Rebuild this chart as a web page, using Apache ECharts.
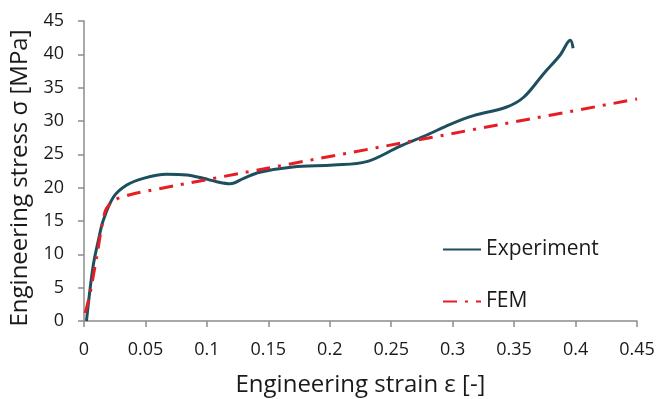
<!DOCTYPE html>
<html>
<head>
<meta charset="utf-8">
<script src="https://cdn.jsdelivr.net/npm/echarts@6/dist/echarts.min.js"></script>
<style>
  html, body { margin: 0; padding: 0; background: #fff; }
  #chart { width: 661px; height: 399px; }
</style>
</head>
<body>
<div id="chart"></div>
<script>
// values (strain, stress MPa)
const experimentStrain = [0.002, 0.0073, 0.0117, 0.0157, 0.024, 0.0348, 0.0483, 0.067, 0.0836, 0.097, 0.108, 0.119, 0.130, 0.143, 0.170, 0.203, 0.230, 0.257, 0.279, 0.298, 0.317, 0.344, 0.358, 0.374, 0.3875, 0.3957, 0.398]
const experimentStress = [0, 8.1, 12.1, 15.1, 18.6, 20.4, 21.4, 22.0, 21.9, 21.4, 20.9, 20.6, 21.4, 22.3, 23.1, 23.4, 23.9, 26.2, 27.9, 29.5, 30.8, 32.1, 33.6, 37.1, 39.9, 42.1, 40.9]

const femStrain = [0.001, 0.005, 0.0103, 0.0144, 0.0175, 0.024, 0.043, 0.45]
const femStress = [1.2, 4.2, 9.6, 14.1, 16.6, 18.1, 19.2, 33.3]

const xTicks = [0, 0.05, 0.1, 0.15, 0.2, 0.25, 0.3, 0.35, 0.4, 0.45]

const chart = echarts.init(document.getElementById('chart'))

const font = 'Open Sans'
const axisGrey = '#8c8c8c'
const textColor = '#1a1a1a'

const option = {
    animation: false,
    grid: { left: 84, right: 24, top: 21, bottom: 78, outerBoundsMode: 'none' },
    legend: {
        orient: 'vertical',
        left: 437,
        top: 234,
        itemGap: 31,
        itemWidth: 38,
        itemHeight: 21,
        itemStyle: { opacity: 0 },
        textStyle: { fontFamily: font, fontSize: 21, color: textColor },
        data: ['Experiment', 'FEM']
    },
    xAxis: {
        type: 'value',
        min: 0,
        max: 0.45,
        interval: 0.05,
        name: 'Engineering strain ε [-]',
        nameLocation: 'middle',
        nameGap: 52,
        nameTextStyle: { fontFamily: font, fontSize: 24, color: textColor },
        axisLine: { lineStyle: { color: axisGrey, width: 1.5 } },
        axisTick: { show: true, length: 6, lineStyle: { color: axisGrey, width: 1.5 } },
        splitLine: { show: false },
        axisLabel: {
            fontFamily: font, fontSize: 18, color: textColor, margin: 20,
            formatter: v => {
                const t = xTicks.find(x => Math.abs(x - v) < 1e-9)
                return t === undefined ? '' : String(t)
            }
        }
    },
    yAxis: {
        type: 'value',
        min: 0,
        max: 45,
        interval: 5,
        name: 'Engineering stress σ [MPa]',
        nameLocation: 'middle',
        nameGap: 45,
        nameTextStyle: { fontFamily: font, fontSize: 24, color: textColor, padding: [0, 14, 0, 0] },
        axisLine: { show: true, lineStyle: { color: axisGrey, width: 1.5 } },
        axisTick: { show: true, length: 6, lineStyle: { color: axisGrey, width: 1.5 } },
        splitLine: { show: false },
        axisLabel: { fontFamily: font, fontSize: 18, color: textColor, margin: 20 }
    },
    series: [
        {
            name: 'Experiment',
            type: 'line',
            smooth: 0.35,
            showSymbol: false,
            symbol: 'none',
            color: '#1d4f5e',
            lineStyle: { color: '#1d4f5e', width: 3 },
            data: experimentStrain.map((x, i) => [x, experimentStress[i]])
        },
        {
            name: 'FEM',
            type: 'line',
            smooth: 0.2,
            showSymbol: false,
            symbol: 'none',
            color: '#e41e25',
            lineStyle: { color: '#e41e25', width: 3, type: [14, 8, 3, 8] },
            data: femStrain.map((x, i) => [x, femStress[i]])
        }
    ]
}

chart.setOption(option)
</script>
</body>
</html>
